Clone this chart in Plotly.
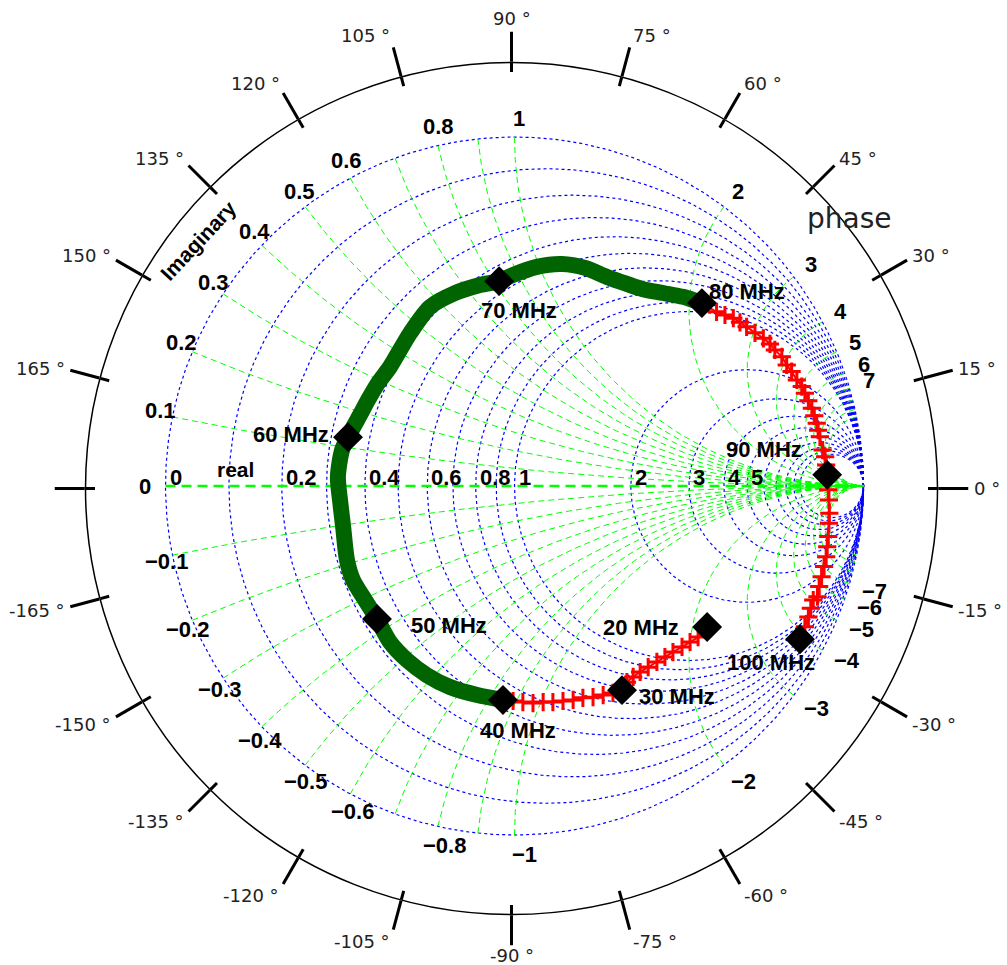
import numpy as np
import plotly.graph_objects as go

# ---------------- data (reflection coefficient) ----------------
marker_labels = ["20 MHz", "30 MHz", "40 MHz", "50 MHz", "60 MHz",
                 "70 MHz", "80 MHz", "90 MHz", "100 MHz"]
marker_re = [0.552, 0.308, -0.033, -0.394, -0.477, -0.044, 0.537, 0.896, 0.818]
marker_im = [-0.404, -0.585, -0.613, -0.381, 0.140, 0.587, 0.524, 0.032, -0.439]

# 20 -> 40 MHz (red +)
low_re = [0.552, 0.526, 0.503, 0.480, 0.454, 0.431, 0.408, 0.383, 0.360, 0.340,
          0.322, 0.308, 0.282, 0.254, 0.225, 0.196, 0.168, 0.139, 0.110, 0.082,
          0.053, 0.024, -0.004, -0.033]
low_im = [-0.407, -0.433, -0.447, -0.461, -0.476, -0.490, -0.504, -0.519, -0.533,
          -0.547, -0.562, -0.579, -0.593, -0.599, -0.605, -0.607, -0.613, -0.616,
          -0.619, -0.619, -0.622, -0.619, -0.616, -0.613]

# 40 -> 80 MHz (green)
mid_re = [-0.033, -0.107, -0.185, -0.251, -0.308, -0.357, -0.394, -0.428, -0.463,
          -0.480, -0.491, -0.500, -0.506, -0.494, -0.477, -0.443, -0.420, -0.391,
          -0.357, -0.299, -0.242, -0.170, -0.099, -0.044, -0.004, 0.064, 0.136,
          0.202, 0.265, 0.322, 0.368, 0.426, 0.483, 0.537]
mid_im = [-0.613, -0.599, -0.576, -0.542, -0.499, -0.447, -0.381, -0.327, -0.269,
          -0.212, -0.117, -0.040, 0.026, 0.103, 0.140, 0.203, 0.246, 0.295,
          0.341, 0.438, 0.513, 0.553, 0.576, 0.587, 0.605, 0.628, 0.636,
          0.625, 0.599, 0.579, 0.564, 0.553, 0.542, 0.524]

# 80 -> 100 MHz (red +)
high_re = [0.537, 0.579, 0.603, 0.627, 0.646, 0.665, 0.689, 0.713, 0.732, 0.746,
           0.766, 0.780, 0.794, 0.809, 0.823, 0.832, 0.842, 0.852, 0.859, 0.866,
           0.870, 0.875, 0.883, 0.890, 0.893, 0.896, 0.899, 0.901, 0.902, 0.901,
           0.899, 0.896, 0.893, 0.887, 0.880, 0.873, 0.868, 0.856, 0.849, 0.842,
           0.832, 0.818]
high_im = [0.524, 0.499, 0.490, 0.481, 0.469, 0.456, 0.439, 0.423, 0.407, 0.390,
           0.370, 0.347, 0.328, 0.304, 0.285, 0.266, 0.244, 0.223, 0.201, 0.180,
           0.160, 0.141, 0.103, 0.084, 0.060, 0.032, -0.011, -0.040, -0.078,
           -0.107, -0.145, -0.174, -0.203, -0.231, -0.260, -0.288, -0.317, -0.327,
           -0.350, -0.375, -0.403, -0.439]

# Smith chart grid values and labels
resistance_grid = [0, 0.1, 0.2, 0.3, 0.4, 0.5, 0.6, 0.7, 0.8, 0.9, 1,
                   2, 3, 4, 5, 6, 7, 8, 9, 10]
reactance_grid = [0.1, 0.2, 0.3, 0.4, 0.5, 0.6, 0.7, 0.8, 0.9, 1,
                  2, 3, 4, 5, 6, 7, 8, 9, 10]
real_labels = [0, 0.2, 0.4, 0.6, 0.8, 1, 2, 3, 4, 5]
imag_labels = [0, 0.1, 0.2, 0.3, 0.4, 0.5, 0.6, 0.8, 1, 2, 3, 4, 5, 6, 7,
               -0.1, -0.2, -0.3, -0.4, -0.5, -0.6, -0.8, -1, -2, -3, -4, -5, -6, -7]
phase_ticks = list(range(0, 360, 15))

# ---------------- layout geometry ----------------
W, H = 1007, 965
SC_X, SC_Y, SC_R = 514.5, 486.0, 349.0      # Smith chart centre / radius (px)
PC_X, PC_Y, PC_R = 511.5, 488.5, 426.0      # phase ring centre / radius (px)
PH_FS = 18                                   # phase label font size
PH_PAD = 34                                  # distance ring -> phase label

BOLD = dict(family="Arial, Liberation Sans, sans-serif", size=22, color="black",
            weight="bold")


def fmt(v):
    s = ("%g" % abs(v))
    return ("\u2212" + s) if v < 0 else s


fig = go.Figure()

# resistance circles (blue dotted)
gx, gy = [], []
t = np.linspace(0, 2 * np.pi, 721)
for r in resistance_grid:
    c, rad = r / (1 + r), 1 / (1 + r)
    gx += list(c + rad * np.cos(t)) + [None]
    gy += list(rad * np.sin(t)) + [None]
fig.add_trace(go.Scatter(x=gx, y=gy, mode="lines", hoverinfo="skip",
                         line=dict(color="#0000ff", width=1.2, dash="3px,3px")))

# reactance arcs (green dashed)
gx, gy = [], []
rr = np.concatenate([np.linspace(0, 1, 120), np.logspace(0, 3.5, 200)[1:]])
for xv in reactance_grid:
    for sgn in (1, -1):
        z = rr + 1j * sgn * xv
        g = (z - 1) / (z + 1)
        gx += list(g.real) + [None]
        gy += list(g.imag) + [None]
fig.add_trace(go.Scatter(x=gx, y=gy, mode="lines", hoverinfo="skip",
                         line=dict(color="#00ff00", width=1, dash="6px,4px")))
# real axis
fig.add_trace(go.Scatter(x=[-1, 1], y=[0, 0], mode="lines", hoverinfo="skip",
                         line=dict(color="#00ff00", width=2.5, dash="10px,6px")))

# data curves
fig.add_trace(go.Scatter(x=mid_re, y=mid_im, mode="lines",
                         line=dict(color="#006400", width=16, shape="spline",
                                   smoothing=0.8),
                         hoverinfo="skip"))
for xs, ys in ((low_re, low_im), (high_re, high_im)):
    fig.add_trace(go.Scatter(x=xs, y=ys, mode="lines+markers",
                             line=dict(color="red", width=2, shape="spline",
                                       smoothing=0.8),
                             marker=dict(symbol="cross-thin", size=13,
                                         line=dict(color="red", width=3)),
                             hoverinfo="skip"))
fig.add_trace(go.Scatter(x=marker_re, y=marker_im, mode="markers",
                         marker=dict(symbol="diamond", size=23, color="black"),
                         text=marker_labels, hoverinfo="text"))

# invisible traces so both polar subplots render
for sp in ("polar", "polar2"):
    fig.add_trace(go.Scatterpolar(r=[0], theta=[0], mode="markers", subplot=sp,
                                  marker=dict(opacity=0), hoverinfo="skip"))

ann = []
# real-axis labels
for v in real_labels:
    g = (v - 1) / (v + 1)
    ann.append(dict(x=g, y=0, text=fmt(v), xanchor="left", yanchor="middle",
                    xshift=2, yshift=9, showarrow=False, font=BOLD))
# rim (reactance) labels
for v in imag_labels:
    g = (1j * v - 1) / (1j * v + 1)
    th = np.angle(g)
    if v == 0:
        xs, ys = -21, 0
    elif v > 0:
        xs, ys = 16 * np.cos(th) + 4, 16 * np.sin(th) + 3
    else:
        xs, ys = 16 * np.cos(th) + 10, 16 * np.sin(th) - 3
    ann.append(dict(x=g.real, y=g.imag, text=fmt(v), xanchor="center",
                    yanchor="middle", xshift=xs, yshift=ys, showarrow=False,
                    font=BOLD))
# frequency labels
label_offsets = [(-66, 0), (55, -6), (15, -31), (72, -7), (-57, 3),
                 (20, -29), (45, 12), (-63, 25), (-29, -23)]
for txt, xr, yi, (dx, dy) in zip(marker_labels, marker_re, marker_im, label_offsets):
    ann.append(dict(x=xr, y=yi, text=txt, xanchor="center", yanchor="middle",
                    xshift=dx, yshift=dy, showarrow=False, font=BOLD))
ann.append(dict(x=(235 - SC_X) / SC_R, y=(SC_Y - 469) / SC_R, text="real",
                showarrow=False, font=dict(BOLD, size=21)))
ann.append(dict(x=(198 - SC_X) / SC_R, y=(SC_Y - 240) / SC_R, text="Imaginary",
                textangle=-47, showarrow=False, font=dict(BOLD, size=21)))
ann.append(dict(x=894 / W, y=1 - 200 / H, xref="paper", yref="paper", text="phase",
                showarrow=False,
                font=dict(family="DejaVu Sans", size=28, color="#222")))

# phase labels around the ring
for d in phase_ticks:
    if d == 180:
        continue
    a = d if d < 180 else d - 360
    th = np.radians(d)
    c, s = np.cos(th), np.sin(th)
    px = PC_X + (PC_R + PH_PAD) * c
    ff = 0.2 if s > 0 else 0.75
    base = PC_Y - PC_R * s - s * (PH_PAD + PH_FS * ff) + abs(c) * PH_FS * 0.35
    py = base - 0.36 * PH_FS
    xa = "center" if abs(c) < 0.1 else ("left" if c > 0 else "right")
    ann.append(dict(x=px / W, y=1 - py / H, xref="paper", yref="paper",
                    text="%d \u00b0" % a, xanchor=xa, yanchor="middle",
                    showarrow=False,
                    font=dict(family="DejaVu Sans", size=PH_FS, color="#222")))

pdom_x = [(PC_X - PC_R) / W, (PC_X + PC_R) / W]
pdom_y = [1 - (PC_Y + PC_R) / H, 1 - (PC_Y - PC_R) / H]
polar_common = dict(domain=dict(x=pdom_x, y=pdom_y), bgcolor="rgba(0,0,0,0)",
                    radialaxis=dict(visible=False, range=[0, 1]))

fig.update_layout(
    width=W, height=H, margin=dict(l=0, r=0, t=0, b=0),
    paper_bgcolor="white", plot_bgcolor="rgba(0,0,0,0)", showlegend=False,
    xaxis=dict(range=[(0 - SC_X) / SC_R, (W - SC_X) / SC_R], visible=False,
               domain=[0, 1], fixedrange=True),
    yaxis=dict(range=[(SC_Y - H) / SC_R, (SC_Y - 0) / SC_R], visible=False,
               domain=[0, 1], fixedrange=True),
    polar=dict(**polar_common,
               angularaxis=dict(rotation=0, direction="counterclockwise",
                                tickmode="array", tickvals=phase_ticks,
                                ticks="outside", ticklen=30, showticklabels=False,
                                tickwidth=3, tickcolor="black", showgrid=False,
                                showline=True, linecolor="black", linewidth=1.5)),
    polar2=dict(**polar_common,
                angularaxis=dict(rotation=0, direction="counterclockwise",
                                 tickmode="array", tickvals=phase_ticks,
                                 ticks="inside", ticklen=9, tickwidth=3,
                                 tickcolor="black", showgrid=False,
                                 showline=False, showticklabels=False)),
    annotations=ann,
)

fig.write_html("out.html")
